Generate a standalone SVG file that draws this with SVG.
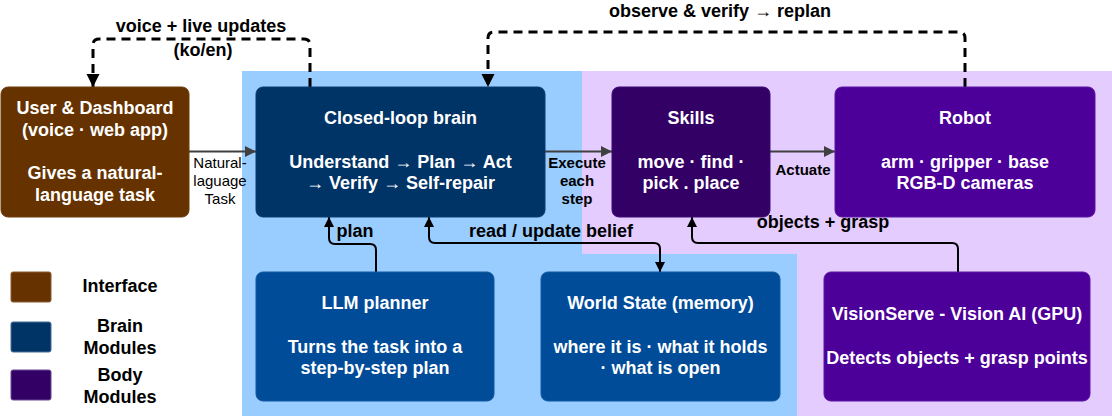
<svg xmlns="http://www.w3.org/2000/svg" width="1112" height="416" viewBox="0 0 1112 416">
  <style>
    text { font-family: "Liberation Sans", Arial, sans-serif; }
    .nt { fill: #ffffff; font-weight: bold; font-size: 18px; text-anchor: middle; }
    .lg { fill: #000000; font-weight: bold; font-size: 18px; text-anchor: middle; }
    .el { fill: #000000; font-weight: bold; font-size: 18px; text-anchor: middle; }
    .sl { fill: #000000; font-weight: bold; font-size: 15px; text-anchor: middle; }
    .rl { fill: #000000; font-size: 15px; text-anchor: middle; }
    .flow { fill: none; stroke: #404040; stroke-width: 2; }
    .dash { fill: none; stroke: #000000; stroke-width: 3; stroke-dasharray: 9 6; }
    .link { fill: none; stroke: #000000; stroke-width: 2; }
  </style>
  <defs>
    <marker id="ag" markerUnits="userSpaceOnUse" markerWidth="12" markerHeight="11" refX="11" refY="5.5" orient="auto">
      <path d="M0,0 L11,5.5 L0,11 Z" fill="#404040"/>
    </marker>
    <marker id="ad" markerUnits="userSpaceOnUse" markerWidth="14" markerHeight="14" refX="13" refY="6.5" orient="auto">
      <path d="M0,0 L13,6.5 L0,13 Z" fill="#000000"/>
    </marker>
    <marker id="ak" markerUnits="userSpaceOnUse" markerWidth="11" markerHeight="11" refX="10" refY="5" orient="auto">
      <path d="M0,0 L10,5 L0,10 Z" fill="#000000"/>
    </marker>
    <marker id="aks" markerUnits="userSpaceOnUse" markerWidth="11" markerHeight="11" refX="10" refY="5" orient="auto-start-reverse">
      <path d="M0,0 L10,5 L0,10 Z" fill="#000000"/>
    </marker>
  </defs>

  <!-- background zones -->
  <g id="zones">
    <path d="M242,71 H582 V254 H797 V416 H242 Z" fill="#99CCFF"/>
    <path d="M582,71 H1112 V416 H797 V254 H582 Z" fill="#E5CCFF"/>
  </g>

  <!-- connectors -->
  <g id="connectors">
    <path class="flow" d="M189,151.5 H256" marker-end="url(#ag)"/>
    <path class="flow" d="M545,151.5 H612" marker-end="url(#ag)"/>
    <path class="flow" d="M770,151.5 H835" marker-end="url(#ag)"/>
    <path class="dash" d="M310,87 V45 Q310,39 304,39 H99 Q93,39 93,45 V87" marker-end="url(#ad)"/>
    <path class="dash" d="M965,87 V38 Q965,32 959,32 H494 Q488,32 488,38 V87" marker-end="url(#ad)"/>
    <path class="link" d="M376,272 V250 Q376,244 370,244 H335 Q329,244 329,238 V217" marker-end="url(#ak)"/>
    <path class="link" d="M429,217 V237 Q429,243 435,243 H654 Q660,243 660,249 V272" marker-start="url(#aks)" marker-end="url(#ak)"/>
    <path class="link" d="M958,272 V249 Q958,243 952,243 H698 Q692,243 692,237 V217" marker-end="url(#ak)"/>
    <text class="el" x="201" y="32">voice + live updates</text>
    <text class="el" x="203" y="56">(ko/en)</text>
    <text class="el" x="720" y="17">observe &amp; verify → replan</text>
    <text class="rl" x="220" y="168">Natural-</text>
    <text class="rl" x="220" y="186">laguage</text>
    <text class="rl" x="220" y="204">Task</text>
    <text class="sl" x="577" y="168">Execute</text>
    <text class="sl" x="577" y="186">each</text>
    <text class="sl" x="577" y="204">step</text>
    <text class="sl" x="803" y="175">Actuate</text>
    <text class="el" x="355" y="237">plan</text>
    <text class="el" x="551" y="237">read / update belief</text>
    <text class="el" x="823" y="228">objects + grasp</text>
  </g>

  <g id="user">
    <rect x="1" y="87" width="188" height="130" rx="7" fill="#663300" stroke="#6f3d0c" stroke-width="1"/>
    <text class="nt" x="95" y="114">User &amp; Dashboard</text>
    <text class="nt" x="95" y="135.5">(voice · web app)</text>
    <text class="nt" x="95" y="179">Gives a natural-</text>
    <text class="nt" x="95" y="200.5">language task</text>
  </g>

  <g id="brain">
    <rect x="256" y="87" width="289" height="130" rx="7" fill="#003366" stroke="#0b3d70" stroke-width="1"/>
    <text class="nt" x="400.5" y="124">Closed-loop brain</text>
    <text class="nt" x="400.5" y="167.5">Understand → Plan → Act</text>
    <text class="nt" x="400.5" y="189">→ Verify → Self-repair</text>
  </g>

  <g id="skills">
    <rect x="612" y="87" width="158" height="130" rx="7" fill="#330066" stroke="#3d0b70" stroke-width="1"/>
    <text class="nt" x="691" y="124">Skills</text>
    <text class="nt" x="691" y="167.5">move · find ·</text>
    <text class="nt" x="691" y="189">pick . place</text>
  </g>

  <g id="robot">
    <rect x="835" y="87" width="260" height="130" rx="7" fill="#4C0099" stroke="#5a16a3" stroke-width="1"/>
    <text class="nt" x="965" y="124">Robot</text>
    <text class="nt" x="965" y="167.5">arm · gripper · base</text>
    <text class="nt" x="965" y="189">RGB-D cameras</text>
  </g>

  <g id="llm">
    <rect x="256" y="272" width="238" height="129" rx="7" fill="#004C99" stroke="#1258a0" stroke-width="1"/>
    <text class="nt" x="375" y="309">LLM planner</text>
    <text class="nt" x="375" y="352.5">Turns the task into a</text>
    <text class="nt" x="375" y="374">step-by-step plan</text>
  </g>

  <g id="world">
    <rect x="541" y="272" width="239" height="129" rx="7" fill="#004C99" stroke="#1258a0" stroke-width="1"/>
    <text class="nt" x="660.5" y="309">World State (memory)</text>
    <text class="nt" x="660.5" y="352.5">where it is · what it holds</text>
    <text class="nt" x="660.5" y="374">· what is open</text>
  </g>

  <g id="vision">
    <rect x="824" y="272" width="266" height="129" rx="7" fill="#4C0099" stroke="#5a16a3" stroke-width="1"/>
    <text class="nt" x="957" y="320">VisionServe - Vision AI (GPU)</text>
    <text class="nt" x="957" y="363.5">Detects objects + grasp points</text>
  </g>

  <g id="legend">
    <rect x="11" y="272" width="40" height="30" rx="2" fill="#663300" stroke="#8a5a30" stroke-width="1"/>
    <rect x="11" y="322" width="40" height="30" rx="2" fill="#003366" stroke="#4a6f96" stroke-width="1"/>
    <rect x="11" y="370" width="40" height="30" rx="2" fill="#330066" stroke="#6a4a96" stroke-width="1"/>
    <text class="lg" x="120" y="292">Interface</text>
    <text class="lg" x="120" y="332">Brain</text>
    <text class="lg" x="120" y="353.5">Modules</text>
    <text class="lg" x="120" y="381">Body</text>
    <text class="lg" x="120" y="402.5">Modules</text>
  </g>
</svg>
